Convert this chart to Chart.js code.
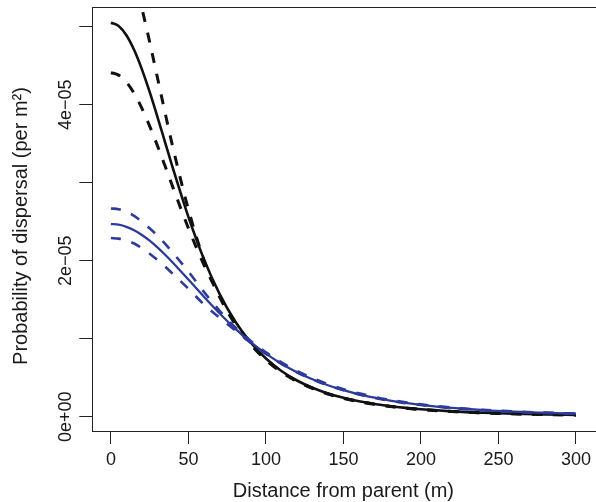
<!DOCTYPE html>
<html>
<head>
<meta charset="utf-8">
<script src="https://cdn.jsdelivr.net/npm/chart.js@4.4.1/dist/chart.umd.min.js"></script>
<style>
  html, body { margin: 0; padding: 0; background: #fff; }
  #wrap { width: 596px; height: 502px; overflow: hidden; }
</style>
</head>
<body>
<div id="wrap"><canvas id="chart" width="596" height="502"></canvas></div>
<script>
// distance from parent (m)
const distance = [0, 5, 10, 15, 20, 25, 30, 35, 40, 50, 60, 70, 80, 90, 100, 110, 120, 130, 140, 150,
                  160, 170, 180, 190, 200, 220, 240, 260, 280, 300];

// probability of dispersal, in units of 1e-5 per m^2
const blackFit   = [5.05, 5.009, 4.890, 4.700, 4.453, 4.163, 3.845, 3.515, 3.185, 2.561, 2.020, 1.577, 1.226, 0.954,
                    0.746, 0.586, 0.464, 0.371, 0.298, 0.242, 0.198, 0.163, 0.135, 0.113, 0.0951, 0.0686, 0.0506,
                    0.0380, 0.0291, 0.0227];
const blackUpper = [6.15, 6.086, 5.898, 5.606, 5.231, 4.804, 4.349, 3.892, 3.450, 2.656, 2.010, 1.54, 1.19, 0.93,
                    0.725, 0.57, 0.452, 0.362, 0.29, 0.235, 0.192, 0.158, 0.131, 0.109, 0.092, 0.066, 0.049,
                    0.037, 0.028, 0.022];
const blackLower = [4.41, 4.379, 4.288, 4.144, 3.953, 3.726, 3.475, 3.210, 2.940, 2.416, 1.947, 1.550, 1.215, 0.950,
                    0.740, 0.580, 0.459, 0.367, 0.295, 0.239, 0.196, 0.161, 0.133, 0.111, 0.094, 0.068, 0.050,
                    0.0375, 0.0288, 0.0225];
const blueFit    = [2.47, 2.461, 2.434, 2.390, 2.330, 2.257, 2.171, 2.076, 1.974, 1.758, 1.538, 1.327, 1.133, 0.960,
                    0.809, 0.680, 0.571, 0.480, 0.403, 0.340, 0.287, 0.243, 0.207, 0.176, 0.151, 0.112, 0.0842,
                    0.0643, 0.0497, 0.0389];
const blueUpper  = [2.67, 2.66, 2.63, 2.575, 2.50, 2.415, 2.32, 2.215, 2.10, 1.86, 1.60, 1.36, 1.15, 0.975,
                    0.825, 0.697, 0.587, 0.495, 0.418, 0.353, 0.299, 0.254, 0.216, 0.184, 0.158, 0.117, 0.088,
                    0.067, 0.052, 0.041];
const blueLower  = [2.29, 2.283, 2.26, 2.22, 2.16, 2.09, 2.01, 1.925, 1.83, 1.64, 1.44, 1.27, 1.11, 0.95,
                    0.805, 0.677, 0.569, 0.478, 0.401, 0.338, 0.285, 0.241, 0.205, 0.174, 0.149, 0.110, 0.083,
                    0.063, 0.049, 0.038];

const xTicks = [0, 50, 100, 150, 200, 250, 300];
const yTicks = [0, 1, 2, 3, 4, 5];
const yLabelAt = [0, 2, 4];
const yLabelText = ['0e+00', '2e\u221205', '4e\u221205'];
const xTitle = 'Distance from parent (m)';
const yTitle = 'Probability of dispersal (per m\u00b2)';

const BLACK = '#111111';
const BLUE = '#2d3b9b';
const INK = '#1a1a1a';
const FONT = '"Liberation Sans", Arial, Helvetica, sans-serif';

const toPoints = vals => vals.map((v, i) => ({ x: distance[i], y: v }));

function curve(vals, color, width, dashed) {
    return {
        data: toPoints(vals),
        borderColor: color,
        borderWidth: width,
        borderDash: dashed ? [10, 11] : [],
        pointRadius: 0,
        fill: false,
        cubicInterpolationMode: 'monotone',
        clip: 0
    };
}

// box round the plot, rotated y labels and the axis titles (R style)
const framePlugin = {
    id: 'frame',
    afterDraw(chart) {
        const { ctx, chartArea: a, scales: { x, y } } = chart;
        ctx.save();
        ctx.strokeStyle = '#222';
        ctx.lineWidth = 1;
        ctx.strokeRect(Math.round(a.left) + 0.5, Math.round(a.top) + 0.5, a.right - a.left + 20, Math.round(a.bottom - a.top));

        ctx.fillStyle = INK;
        ctx.font = '18px ' + FONT;
        ctx.textAlign = 'center';
        ctx.textBaseline = 'alphabetic';
        yLabelAt.forEach((v, i) => {
            ctx.save();
            ctx.translate(70.7, y.getPixelForValue(v));
            ctx.rotate(-Math.PI / 2);
            ctx.fillText(yLabelText[i], 0, 0);
            ctx.restore();
        });

        ctx.font = '20px ' + FONT;
        ctx.fillText(xTitle, x.getPixelForValue(150), 497);

        ctx.save();
        ctx.translate(26.7, 226);
        ctx.rotate(-Math.PI / 2);
        ctx.fillText(yTitle, 0, 0);
        ctx.restore();
        ctx.restore();
    }
};

new Chart(document.getElementById('chart').getContext('2d'), {
    type: 'line',
    data: {
        datasets: [
            curve(blueFit, BLUE, 2.3, false),
            curve(blueUpper, BLUE, 2.6, true),
            curve(blueLower, BLUE, 2.6, true),
            curve(blackFit, BLACK, 2.6, false),
            curve(blackUpper, BLACK, 3, true),
            curve(blackLower, BLACK, 3, true)
        ]
    },
    options: {
        responsive: false,
        animation: false,
        devicePixelRatio: 1,
        layout: { padding: { top: 6.7, right: 0, bottom: 0, left: 0 } },
        plugins: { legend: { display: false }, tooltip: { enabled: false } },
        scales: {
            x: {
                type: 'linear',
                min: -12,
                max: 311.3,
                border: { display: false },
                grid: { drawOnChartArea: false, drawTicks: true, tickLength: 13, tickColor: '#222', tickWidth: 1 },
                ticks: {
                    autoSkip: false, maxRotation: 0, padding: 5, color: INK,
                    font: { family: FONT, size: 18 },
                    callback: v => String(v)
                },
                afterBuildTicks: s => { s.ticks = xTicks.map(v => ({ value: v })); },
                afterFit: s => { s.height = 71; }
            },
            y: {
                type: 'linear',
                min: -0.1833,
                max: 5.256,
                border: { display: false },
                grid: { drawOnChartArea: false, drawTicks: true, tickLength: 13, tickColor: '#222', tickWidth: 1 },
                ticks: { display: false },
                afterBuildTicks: s => { s.ticks = yTicks.map(v => ({ value: v })); },
                afterFit: s => { s.width = 92.3; }
            }
        }
    },
    plugins: [framePlugin]
});
</script>
</body>
</html>
